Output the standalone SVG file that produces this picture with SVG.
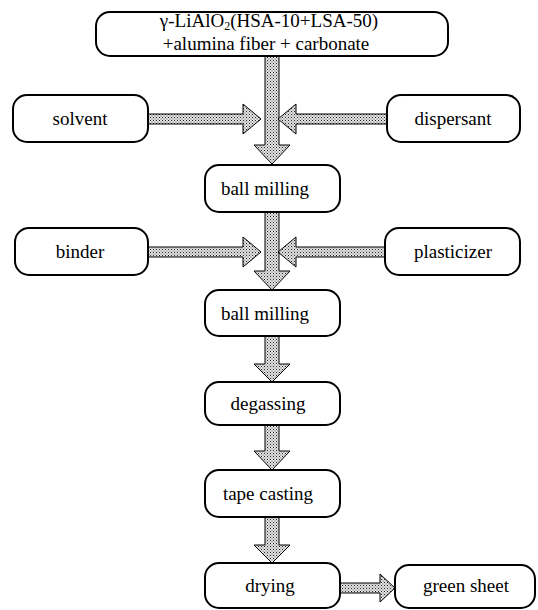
<svg xmlns="http://www.w3.org/2000/svg" width="538" height="610" viewBox="0 0 538 610">
<defs>
<pattern id="dots" width="3" height="3" patternUnits="userSpaceOnUse">
<rect width="3" height="3" fill="#e4e4e4"/>
<rect x="0" y="0" width="1" height="1" fill="#222"/>
<rect x="1.5" y="1.5" width="1" height="1" fill="#555"/>
</pattern>
</defs>
<style>
.box{fill:#fff;stroke:#000;stroke-width:2}
.t{font-size:19px;fill:#000;text-anchor:middle}
.arr{fill:url(#dots);stroke:#000;stroke-width:1}
</style>
<rect width="538" height="610" fill="#fff"/>
<g id="connectors">
<polygon class="arr" points="265,56 279,56 279,145 290,145 272,164 254,145 265,145"/>
<polygon class="arr" points="148,114 243,114 243,104 261,119 243,134 243,124 148,124"/>
<polygon class="arr" points="387,114 296,114 296,104 278,119 296,134 296,124 387,124"/>
<polygon class="arr" points="265,212 279,212 279,271 290,271 272,290 254,271 265,271"/>
<polygon class="arr" points="148,247 243,247 243,237 261,252 243,267 243,257 148,257"/>
<polygon class="arr" points="385,247 296,247 296,237 278,252 296,267 296,257 385,257"/>
<polygon class="arr" points="265,336 279,336 279,364 290,364 272,382 254,364 265,364"/>
<polygon class="arr" points="265,425 279,425 279,451 290,451 272,470 254,451 265,451"/>
<polygon class="arr" points="265,517 279,517 279,545 290,545 272,563 254,545 265,545"/>
<polygon class="arr" points="340,583 380,583 380,574 395,588 380,602 380,593 340,593"/>
</g>
<g id="raw">
<rect class="box" x="96" y="12" width="352" height="44" rx="14"/>
<text class="t" x="269" y="27" font-family="Liberation Serif, Times New Roman, serif" font-size="20">γ-LiAlO<tspan font-size="12" dy="3">2</tspan><tspan dy="-3">(HSA-10+LSA-50)</tspan></text>
<text class="t" x="266" y="50" font-family="Liberation Serif, Times New Roman, serif" font-size="20">+alumina fiber + carbonate</text>
</g>
<g id="solvent">
<rect class="box" x="13" y="95" width="135" height="47" rx="14"/>
<text class="t" x="80" y="125" font-family="Liberation Serif, Times New Roman, serif">solvent</text>
</g>
<g id="dispersant">
<rect class="box" x="387" y="95" width="133" height="47" rx="14"/>
<text class="t" x="453" y="125" font-family="Liberation Serif, Times New Roman, serif">dispersant</text>
</g>
<g id="ballmilling1">
<rect class="box" x="205" y="165" width="135" height="47" rx="14"/>
<text class="t" x="265" y="195" font-family="Liberation Serif, Times New Roman, serif">ball milling</text>
</g>
<g id="binder">
<rect class="box" x="15" y="228" width="133" height="47" rx="14"/>
<text class="t" x="80" y="258" font-family="Liberation Serif, Times New Roman, serif">binder</text>
</g>
<g id="plasticizer">
<rect class="box" x="385" y="228" width="135" height="47" rx="14"/>
<text class="t" x="453" y="258" font-family="Liberation Serif, Times New Roman, serif">plasticizer</text>
</g>
<g id="ballmilling2">
<rect class="box" x="205" y="290" width="135" height="46" rx="14"/>
<text class="t" x="265" y="320" font-family="Liberation Serif, Times New Roman, serif">ball milling</text>
</g>
<g id="degassing">
<rect class="box" x="205" y="382" width="135" height="43" rx="14"/>
<text class="t" x="268" y="410" font-family="Liberation Serif, Times New Roman, serif">degassing</text>
</g>
<g id="tapecasting">
<rect class="box" x="205" y="470" width="135" height="47" rx="14"/>
<text class="t" x="268" y="500" font-family="Liberation Serif, Times New Roman, serif">tape casting</text>
</g>
<g id="drying">
<rect class="box" x="205" y="563" width="135" height="45" rx="14"/>
<text class="t" x="270" y="592" font-family="Liberation Serif, Times New Roman, serif">drying</text>
</g>
<g id="greensheet">
<rect class="box" x="395" y="565" width="140" height="43" rx="14"/>
<text class="t" x="466" y="592" font-family="Liberation Serif, Times New Roman, serif">green sheet</text>
</g>
</svg>
